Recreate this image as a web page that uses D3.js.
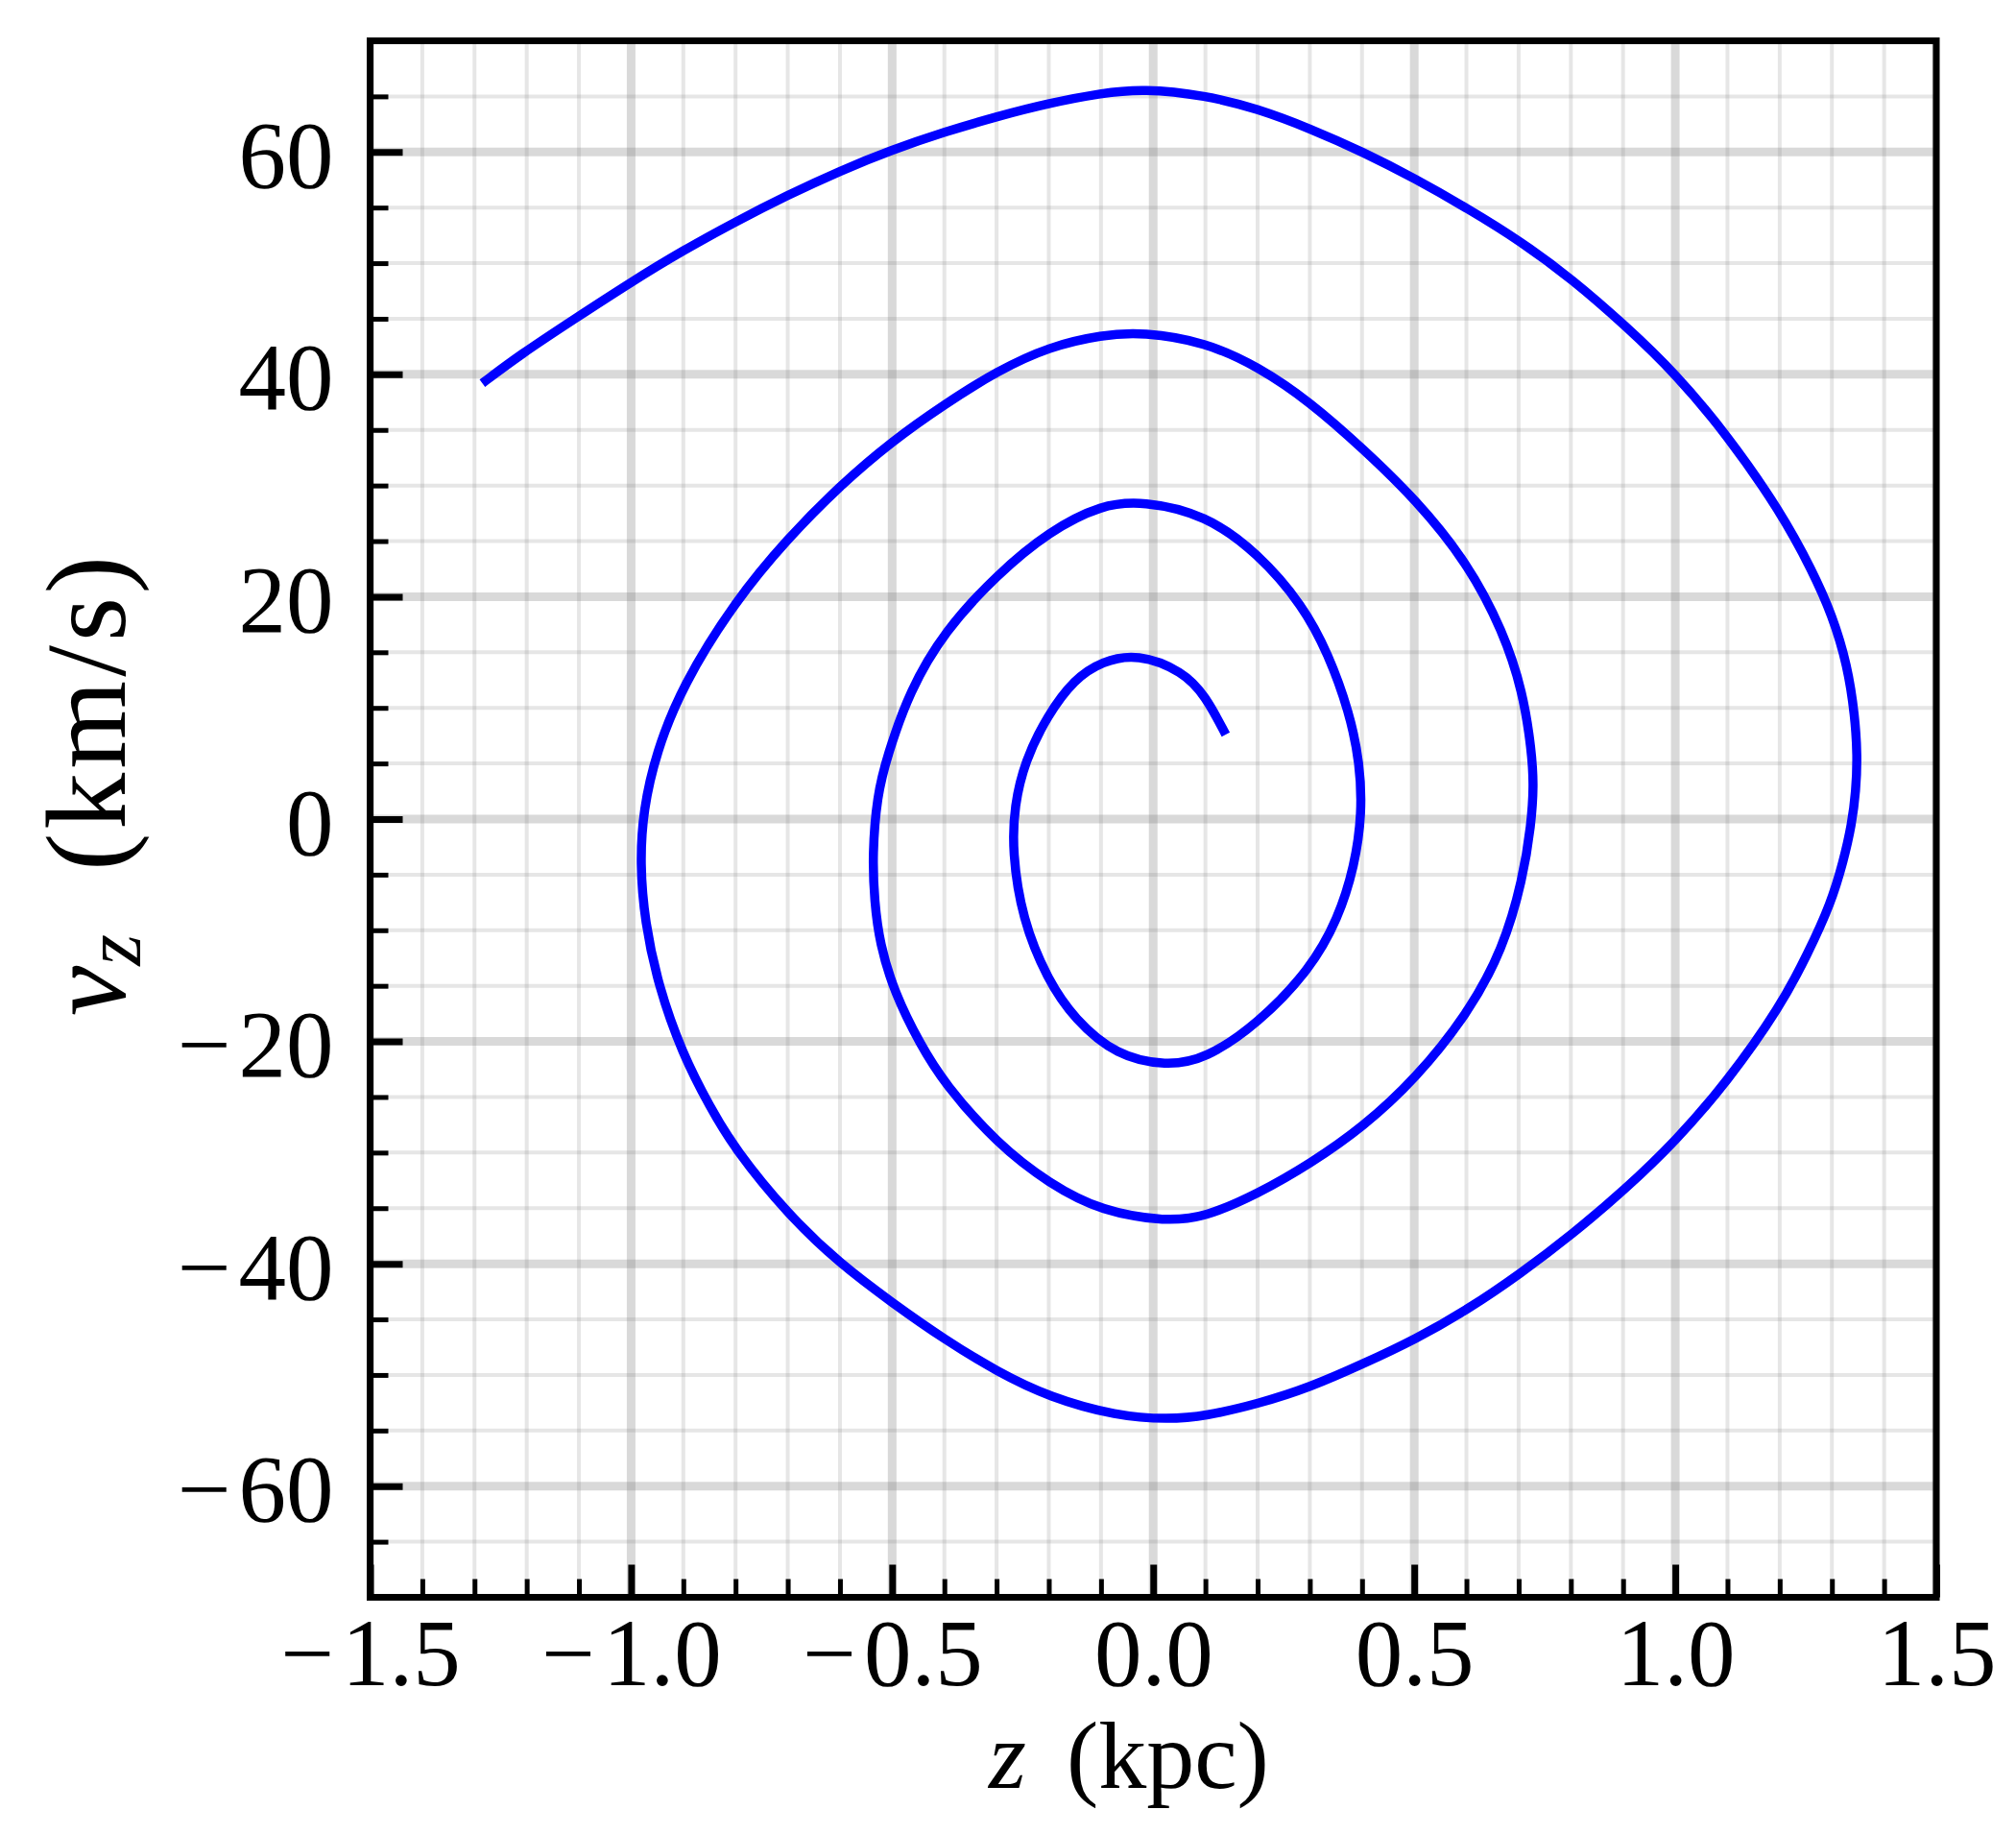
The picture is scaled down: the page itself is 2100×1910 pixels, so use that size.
<!DOCTYPE html>
<html>
<head>
<meta charset="utf-8">
<script src="https://cdn.jsdelivr.net/npm/d3@7"></script>
<style>
  html, body { margin: 0; padding: 0; background: #ffffff; }
  svg { display: block; }
  text { font-family: "Liberation Serif", "DejaVu Serif", serif; fill: #000; }
</style>
</head>
<body>
<svg id="chart" width="2100" height="1910"></svg>
<script>
// ---------------- data ----------------
const orbitZ = [
  -1.285,-1.213,-1.108,-1.0,-0.902,-0.801,-0.701,-0.600,-0.5,-0.400,-0.299,-0.199,-0.098,-0.02,
  0.1,0.2,0.301,0.402,0.502,0.603,0.703,0.804,0.904,1.0,1.1,1.201,1.263,1.301,1.330,1.344,1.349,1.346,1.338,
  1.322,1.298,1.254,1.201,1.1,1.0,0.904,0.804,0.703,0.603,0.502,0.402,0.301,0.201,0.1,0.03,
  -0.07,-0.199,-0.299,-0.4,-0.5,-0.6,-0.701,-0.801,-0.849,-0.902,-0.948,-0.974,-0.983,
  -0.977,-0.952,-0.902,-0.801,-0.701,-0.600,-0.5,-0.4,-0.299,-0.199,-0.098,-0.02,
  0.1,0.201,0.301,0.402,0.502,0.603,0.670,0.708,0.725,0.729,0.724,
  0.708,0.670,0.603,0.502,0.402,0.301,0.201,0.1,0.025,
  -0.098,-0.199,-0.299,-0.4,-0.447,-0.495,-0.524,-0.534,-0.538,
  -0.529,-0.510,-0.467,-0.4,-0.299,-0.199,-0.098,-0.02,
  0.1,0.201,0.287,0.335,0.376,0.396,0.400,
  0.386,0.354,0.301,0.201,0.1,0.025,
  -0.07,-0.151,-0.203,-0.251,-0.270,
  -0.266,-0.246,-0.203,-0.151,-0.098,-0.03,
  0.057,0.1,0.139
];
const orbitVz = [
  39.2,41.75,45.0,48.3,51.1,53.7,56.1,58.3,60.2,61.8,63.2,64.4,65.3,65.7,
  65.1,63.9,62.1,60.0,57.6,54.9,52.0,48.5,44.4,40.1,34.5,27.7,22.3,18.3,13.8,9.3,5.7,2.5,-0.5,
  -3.8,-7.6,-12.1,-16.9,-23.6,-29.0,-33.3,-37.3,-40.9,-44.1,-46.8,-49.0,-51.1,-52.6,-53.7,-54.0,
  -53.7,-52.0,-49.7,-46.8,-43.5,-40.0,-35.5,-29.7,-25.9,-21.1,-15.0,-9.2,-4.0,
  0.8,6.0,12.0,19.6,25.2,30.0,34.0,37.3,40.3,42.5,43.55,43.8,
  42.9,40.7,37.5,33.3,28.8,23.0,16.9,11.5,6.1,3.0,-0.5,
  -5.4,-11.7,-17.5,-23.4,-27.7,-31.0,-33.7,-35.8,-36.2,
  -35.3,-32.8,-29.2,-23.8,-20.2,-15.7,-11.2,-7.4,-3.2,
  2.1,5.6,11.5,16.9,22.0,25.9,28.3,28.6,
  27.4,23.9,19.2,14.9,9.6,5.0,0.5,
  -4.2,-9.0,-13.5,-18.4,-21.6,-22.2,
  -21.3,-18.0,-14.4,-9.0,-2.9,
  1.2,5.2,9.3,12.6,14.2,14.9,
  13.3,11.1,7.6
];

const zTicksMajor = [-1.5, -1.0, -0.5, 0.0, 0.5, 1.0, 1.5];
const zTickLabels = ["\u22121.5", "\u22121.0", "\u22120.5", "0.0", "0.5", "1.0", "1.5"];
const vTicksMajor = [-60, -40, -20, 0, 20, 40, 60];
const vTickLabels = ["\u221260", "\u221240", "\u221220", "0", "20", "40", "60"];
const zDomain = [-1.5, 1.5];
const vDomain = [-70, 70];
const zMinorStep = 0.1;
const vMinorStep = 5;

// ---------------- layout ----------------
const L = 385.5, R = 2017, T = 42.5, B = 1663.5;
const svg = d3.select("#chart");

const x = d3.scaleLinear().domain(zDomain).range([L, R]);
const y = d3.scaleLinear().domain(vDomain).range([B, T]);

const zMinor = d3.range(Math.round((zDomain[1]-zDomain[0])/zMinorStep)+1).map(i => +(zDomain[0] + i*zMinorStep).toFixed(2));
const vMinor = d3.range(Math.round((vDomain[1]-vDomain[0])/vMinorStep)+1).map(i => vDomain[0] + i*vMinorStep);
const isMajorZ = v => zTicksMajor.some(m => Math.abs(m - v) < 1e-6);
const isMajorV = v => vTicksMajor.some(m => Math.abs(m - v) < 1e-6);

svg.append("defs").append("clipPath").attr("id", "plotclip")
  .append("rect").attr("x", L).attr("y", T).attr("width", R - L).attr("height", B - T);

const grid = svg.append("g").attr("clip-path", "url(#plotclip)");

// minor grid
grid.selectAll(".gzm").data(zMinor.filter(v => !isMajorZ(v))).join("line")
  .attr("x1", d => x(d)).attr("x2", d => x(d)).attr("y1", T).attr("y2", B)
  .attr("stroke", "#808080").attr("stroke-opacity", 0.2).attr("stroke-width", 4);
grid.selectAll(".gvm").data(vMinor.filter(v => !isMajorV(v))).join("line")
  .attr("y1", d => y(d)).attr("y2", d => y(d)).attr("x1", L).attr("x2", R)
  .attr("stroke", "#808080").attr("stroke-opacity", 0.2).attr("stroke-width", 4);
// major grid
grid.selectAll(".gzM").data(zTicksMajor).join("line")
  .attr("x1", d => x(d)).attr("x2", d => x(d)).attr("y1", T).attr("y2", B)
  .attr("stroke", "#808080").attr("stroke-opacity", 0.3).attr("stroke-width", 9);
grid.selectAll(".gvM").data(vTicksMajor).join("line")
  .attr("y1", d => y(d)).attr("y2", d => y(d)).attr("x1", L).attr("x2", R)
  .attr("stroke", "#808080").attr("stroke-opacity", 0.3).attr("stroke-width", 9);

// orbit line
const pts = orbitZ.map((z, i) => [z, orbitVz[i]]);
const line = d3.line().x(d => x(d[0])).y(d => y(d[1])).curve(d3.curveBasis);
svg.append("path").attr("clip-path", "url(#plotclip)")
  .attr("d", line(pts)).attr("fill", "none").attr("stroke", "#0000ff")
  .attr("stroke-width", 9.5).attr("stroke-linejoin", "round").attr("stroke-linecap", "butt");

// axes (ticks inward)
const fs = 99;
const xMinorAxis = d3.axisBottom(x).tickValues(zMinor.filter(v => !isMajorZ(v))).tickSize(-19).tickFormat("");
const xMajorAxis = d3.axisBottom(x).tickValues(zTicksMajor).tickSize(-34).tickFormat("");
const yMinorAxis = d3.axisLeft(y).tickValues(vMinor.filter(v => !isMajorV(v))).tickSize(-19).tickFormat("");
const yMajorAxis = d3.axisLeft(y).tickValues(vTicksMajor).tickSize(-34).tickFormat("");

function styleAxis(g, w) {
  g.select(".domain").remove();
  g.selectAll(".tick line").attr("stroke", "#000").attr("stroke-width", w);
}
svg.append("g").attr("transform", `translate(0,${B})`).call(xMinorAxis).call(g => styleAxis(g, 5));
const gxM = svg.append("g").attr("transform", `translate(0,${B})`).call(xMajorAxis).call(g => styleAxis(g, 7));
svg.append("g").attr("transform", `translate(${L},0)`).call(yMinorAxis).call(g => styleAxis(g, 5));
const gyM = svg.append("g").attr("transform", `translate(${L},0)`).call(yMajorAxis).call(g => styleAxis(g, 7));

// tick labels with wide minus
function setLabel(sel, label) {
  sel.text(null);
  if (label.startsWith("\u2212")) {
    sel.append("tspan").text("\u2212");
    sel.append("tspan").attr("dx", 8).text(label.slice(1));
  } else {
    sel.append("tspan").text(label);
  }
}
gxM.selectAll(".tick").each(function(d) {
  const t = d3.select(this).select("text")
    .attr("y", 1755 - B).attr("dy", null).attr("font-size", fs)
    .attr("font-family", "Liberation Serif, DejaVu Serif, serif")
    .attr("text-anchor", "middle");
  setLabel(t, zTickLabels[zTicksMajor.indexOf(d)]);
});
gyM.selectAll(".tick").each(function(d) {
  const t = d3.select(this).select("text")
    .attr("x", -38).attr("dy", null).attr("y", 36).attr("font-size", fs)
    .attr("font-family", "Liberation Serif, DejaVu Serif, serif")
    .attr("text-anchor", "end");
  setLabel(t, vTickLabels[vTicksMajor.indexOf(d)]);
});

// spines
svg.append("rect").attr("x", L).attr("y", T).attr("width", R - L).attr("height", B - T)
  .attr("fill", "none").attr("stroke", "#000").attr("stroke-width", 7);

// axis titles
const xt = svg.append("text").attr("x", 1030).attr("y", 1862).attr("font-size", 100).attr("text-anchor", "start");
xt.append("tspan").attr("font-style", "italic").text("z");
xt.append("tspan").attr("dx", 42).text("(kpc)");

const yt = svg.append("text").attr("transform", "translate(130,1058) rotate(-90)")
  .attr("font-size", 118).attr("text-anchor", "start");
yt.append("tspan").attr("font-style", "italic").text("v");
yt.append("tspan").attr("font-style", "italic").attr("font-size", 84).attr("dy", 16).text("z");
yt.append("tspan").attr("dy", -16).attr("dx", 66).attr("letter-spacing", 4).text("(km/s)");
</script>
</body>
</html>
